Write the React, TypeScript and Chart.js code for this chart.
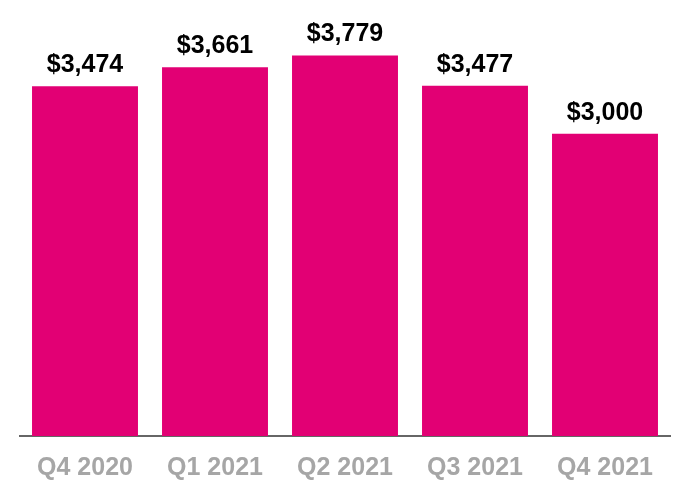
import React, { useEffect, useRef } from "react";
import { Chart, registerables } from "chart.js";

Chart.register(...registerables);

const categories = ["Q4 2020", "Q1 2021", "Q2 2021", "Q3 2021", "Q4 2021"];
const values = [3474, 3661, 3779, 3477, 3000];
const valueLabels = ["$3,474", "$3,661", "$3,779", "$3,477", "$3,000"];

const FONT = "'Liberation Sans', Arial, sans-serif";

const valueLabelPlugin = {
  id: "valueLabels",
  afterDatasetsDraw(chart: any) {
    const ctx = chart.ctx;
    const meta = chart.getDatasetMeta(0);
    ctx.save();
    ctx.font = `bold 25px ${FONT}`;
    ctx.fillStyle = "#000000";
    ctx.textAlign = "center";
    ctx.textBaseline = "alphabetic";
    meta.data.forEach((bar: any, i: number) => {
      ctx.fillText(valueLabels[i], bar.x, bar.y - 14);
    });
    ctx.restore();
  },
};

export default function App() {
  const ref = useRef<HTMLCanvasElement | null>(null);
  useEffect(() => {
    if (!ref.current) return;
    const chart = new Chart(ref.current, {
      type: "bar",
      data: {
        labels: categories,
        datasets: [
          {
            data: values,
            backgroundColor: "#E20074",
            borderWidth: 0,
            categoryPercentage: 1,
            barPercentage: 0.815,
          },
        ],
      },
      options: {
        animation: false,
        responsive: false,
        maintainAspectRatio: false,
        layout: { padding: { left: 20, right: 20, top: 10, bottom: 0 } },
        plugins: { legend: { display: false }, tooltip: { enabled: false } },
        scales: {
          x: {
            grid: { display: false, drawTicks: false },
            border: { display: true, color: "#666666", width: 2 },
            ticks: {
              color: "#a6a6a6",
              font: { family: FONT, size: 25, weight: "bold" },
              padding: 17,
              maxRotation: 0,
            },
          },
          y: {
            display: false,
            min: 0,
            max: 4230,
          },
        },
      },
      plugins: [valueLabelPlugin],
    });
    return () => chart.destroy();
  }, []);
  return (
    <div style={{ position: "fixed", left: 0, top: 0, width: 690, height: 500, background: "#fff" }}>
      <canvas ref={ref} width={690} height={500} style={{ width: 690, height: 500 }} />
    </div>
  );
}
